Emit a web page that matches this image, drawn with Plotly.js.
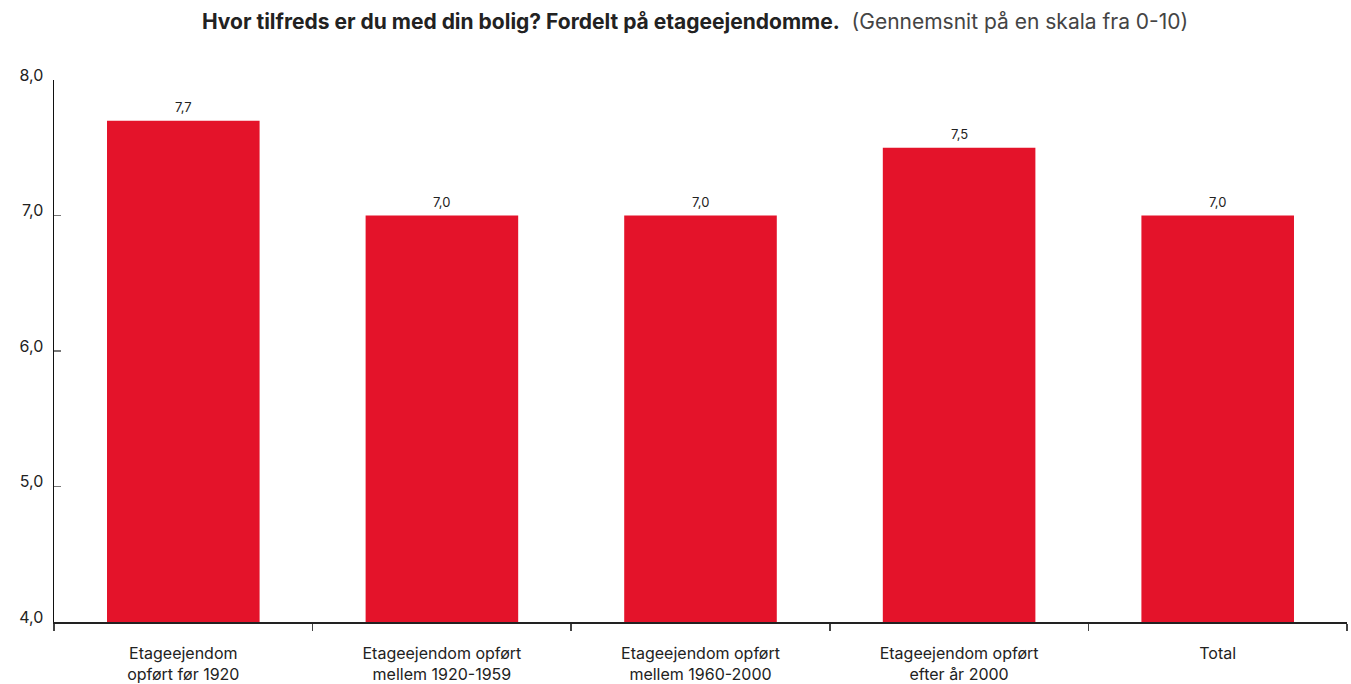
<!DOCTYPE html>
<html>
<head>
<meta charset="utf-8">
<script src="https://cdn.plot.ly/plotly-3.0.1.min.js"></script>
<style>html,body{margin:0;padding:0;background:#fff;}#chart{width:1351px;height:684px;}</style>
</head>
<body>
<div id="chart"></div>
<script>
var categories = [
  "Etageejendom<br>opført før 1920",
  "Etageejendom opført<br>mellem 1920-1959",
  "Etageejendom opført<br>mellem 1960-2000",
  "Etageejendom opført<br>efter år 2000",
  "Total"
];
var values = [7.7, 7.0, 7.0, 7.5, 7.0];
var valueLabels = ["7,7", "7,0", "7,0", "7,5", "7,0"];
var yTicks = [4, 5, 6, 7, 8];

var trace = {
  type: "bar",
  x: categories,
  y: values,
  marker: {color: "#E4132A"},
  hoverinfo: "skip"
};

var annotations = categories.map(function (c, i) {
  return {
    x: c, y: values[i], xref: "x", yref: "y",
    text: valueLabels[i], showarrow: false,
    yanchor: "bottom", yshift: 4,
    font: {family: "Inter, sans-serif", size: 13, color: "#222"}
  };
});

var layout = {
  width: 1351,
  height: 684,
  margin: {l: 54, r: 4, t: 80, b: 62},
  paper_bgcolor: "#fff",
  plot_bgcolor: "#fff",
  separators: ",.",
  bargap: 0.41,
  showlegend: false,
  font: {family: "Inter, sans-serif", color: "#222"},
  annotations: annotations,
  title: {
    text: "<b>Hvor tilfreds er du med din bolig? Fordelt på etageejendomme.</b>  <span style='color:#444'>(Gennemsnit på en skala fra 0-10)</span>",
    font: {family: "Inter, sans-serif", size: 21, color: "#222"},
    x: 0.5145, xref: "container", xanchor: "center",
    y: 0.968, yref: "container", yanchor: "middle"
  },
  xaxis: {
    type: "category",
    showline: true, linecolor: "#222", linewidth: 1.5,
    ticks: "outside", tickson: "boundaries", ticklen: 7, tickcolor: "#444", tickwidth: 1.5,
    showgrid: false,
    tickfont: {family: "Inter, sans-serif", size: 16, color: "#222"},
    ticklabelstandoff: 16
  },
  yaxis: {
    range: [4, 8],
    tickvals: yTicks,
    tickformat: ".1f",
    showline: true, linecolor: "#111", linewidth: 1.5,
    ticks: "inside", ticklen: 7, tickcolor: "#777", tickwidth: 1.5,
    showgrid: false, zeroline: false,
    tickfont: {family: "Inter, sans-serif", size: 16, color: "#222"},
    ticklabelstandoff: 6,
    ticklabelshift: -5
  }
};

Plotly.newPlot("chart", [trace], layout, {displayModeBar: false, staticPlot: true});
</script>
</body>
</html>
